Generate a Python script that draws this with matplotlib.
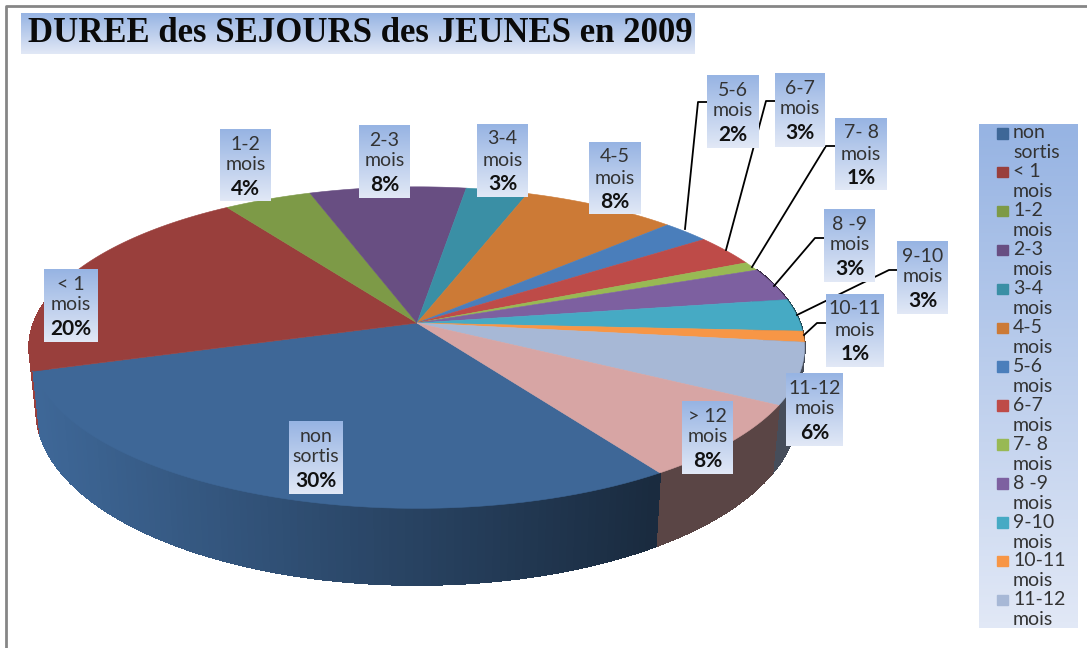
import numpy as np
import matplotlib
matplotlib.use('Agg')
import matplotlib.pyplot as plt
from matplotlib.colors import to_rgb, LinearSegmentedColormap
from matplotlib.patches import Rectangle

plt.rcParams['font.family'] = ['Lato', 'DejaVu Sans']

categories = ['non\nsortis', '< 1\nmois', '1-2\nmois', '2-3\nmois', '3-4\nmois', '4-5\nmois', '5-6\nmois',
              '6-7\nmois', '7- 8\nmois', '8 -9\nmois', '9-10\nmois', '10-11\nmois', '11-12\nmois', '> 12\nmois']
values = [29.6, 20.3, 4.25, 7.55, 3.0, 7.5, 2.3, 3.15, 0.9, 3.35, 3.25, 1.1, 6.15, 7.6]
colors = ['#3E6797', '#993F3C', '#7D9A47', '#684E82', '#3A8FA5', '#CC7A36', '#4A7EBB',
          '#BE4B48', '#98B954', '#7D60A0', '#46AAC4', '#F79646', '#A7B8D6', '#D7A5A4']
legend_count = 13  # le dernier ne rentre pas dans la legende

# boites des etiquettes : x, y, largeur, hauteur (pixels)
label_boxes = [(289, 421, 54, 73), (44, 269, 54, 73), (220, 129, 51, 72), (359, 125, 51, 73),
               (477, 124, 51, 73), (589, 142, 52, 72), (707, 75, 52, 73), (775, 73, 50, 74),
               (835, 118, 52, 72), (824, 209, 51, 73), (897, 241, 51, 73), (826, 294, 58, 73),
               (786, 373, 57, 73), (682, 401, 51, 73)]
leaders = [[(685, 229), (698, 102), (707, 102)],
           [(726, 250), (766, 101), (775, 101)],
           [(752, 267), (826, 146), (835, 146)],
           [(774, 286), (815, 238), (824, 238)],
           [(797, 315), (889, 270), (897, 270)],
           [(804, 335), (817, 323), (826, 323)]]

start = -33.6
k = 0.153


def proj(phi, base=False):
    # phi en degres, sens horaire depuis l'avant du camembert
    p = np.radians(phi)
    X, Y = -np.sin(p), np.cos(p)
    w = 1 - k * Y
    if base:
        return 417 + 376 * X / w, 384 + 170 * Y / w
    return 417 + 383 * X / w, 323 + 157 * Y / w


def shade(col, x):
    f = np.clip(1 - (x - 40) / 610 * 0.58, 0.42, 1)
    return tuple(np.array(to_rgb(col)) * f)


fig = plt.figure(figsize=(10.87, 6.48), dpi=100)
ax = fig.add_axes([0, 0, 1, 1])

box_cmap = LinearSegmentedColormap.from_list('box', ['#97B4E3', '#E1E8F6'])
grad = np.linspace(0, 1, 64).reshape(-1, 1)


def gradient_box(x, y, w, h, z):
    ax.imshow(grad, extent=(x, x + w, y + h, y), cmap=box_cmap, aspect='auto', zorder=z, interpolation='bilinear')


# cadre
ax.plot([5.5, 5.5, 1087], [648, 5.5, 5.5], color='#868686', lw=2, zorder=1)

# parois puis dessus
edges = start + np.cumsum([0] + values) * 3.6
segs = []
for i in range(len(values)):
    phis = np.arange(edges[i], edges[i + 1], 1.0)
    phis = np.append(phis, edges[i + 1])
    for a, b in zip(phis[:-1], phis[1:]):
        if np.cos(np.radians((a + b) / 2)) > -0.35:
            segs.append((np.cos(np.radians((a + b) / 2)), a, b, colors[i]))
for _, a, b, col in sorted(segs, key=lambda s: s[0]):
    xt, yt = proj(np.array([a, b]))
    xb, yb = proj(np.array([b, a]), base=True)
    c = shade(col, xt.mean())
    ax.fill(np.r_[xt, xb], np.r_[yt, yb], color=c, lw=1, antialiased=False, zorder=2)

for i in range(len(values)):
    phis = np.linspace(edges[i], edges[i + 1], 60)
    x, y = proj(phis)
    ax.fill(np.r_[417, x], np.r_[323, y], color=colors[i], lw=0.4, zorder=3)

for pts in leaders:
    ax.plot(*zip(*pts), color='black', lw=1.3, zorder=4, solid_joinstyle='round')

# etiquettes
for cat, val, (x, y, w, h) in zip(categories, values, label_boxes):
    gradient_box(x, y, w, h, 5)
    l1, l2 = cat.split('\n')
    cx = x + w / 2
    ax.text(cx, y + 15, l1, ha='center', va='center', fontsize=14, color='#333333', zorder=6)
    ax.text(cx, y + 36, l2, ha='center', va='center', fontsize=14, color='#333333', zorder=6)
    ax.text(cx, y + 60, f'{val:.0f}%', ha='center', va='center', fontsize=15, fontweight='bold', color='#111111', zorder=6)

# titre
gradient_box(21, 13, 674, 41, 5)
ax.text(28, 34, 'DUREE des SEJOURS des JEUNES en 2009', ha='left', va='center', fontsize=25,
        family='Liberation Serif', fontweight='bold', color='#0a0a0a', zorder=6)

# legende
gradient_box(979, 124, 99, 504, 5)
for i in range(legend_count):
    ym = 133 + 38.9 * i
    ax.add_patch(Rectangle((997, ym - 5), 10.5, 10.5, color=colors[i], zorder=6))
    l1, l2 = categories[i].split('\n')
    ax.text(1013, ym, l1, ha='left', va='center', fontsize=14, color='#333333', zorder=6)
    ax.text(1013, ym + 20, l2, ha='left', va='center', fontsize=14, color='#333333', zorder=6)

ax.set_xlim(0, 1087)
ax.set_ylim(648, 0)
ax.axis('off')
fig.savefig('out.png', dpi=100, facecolor='white')
